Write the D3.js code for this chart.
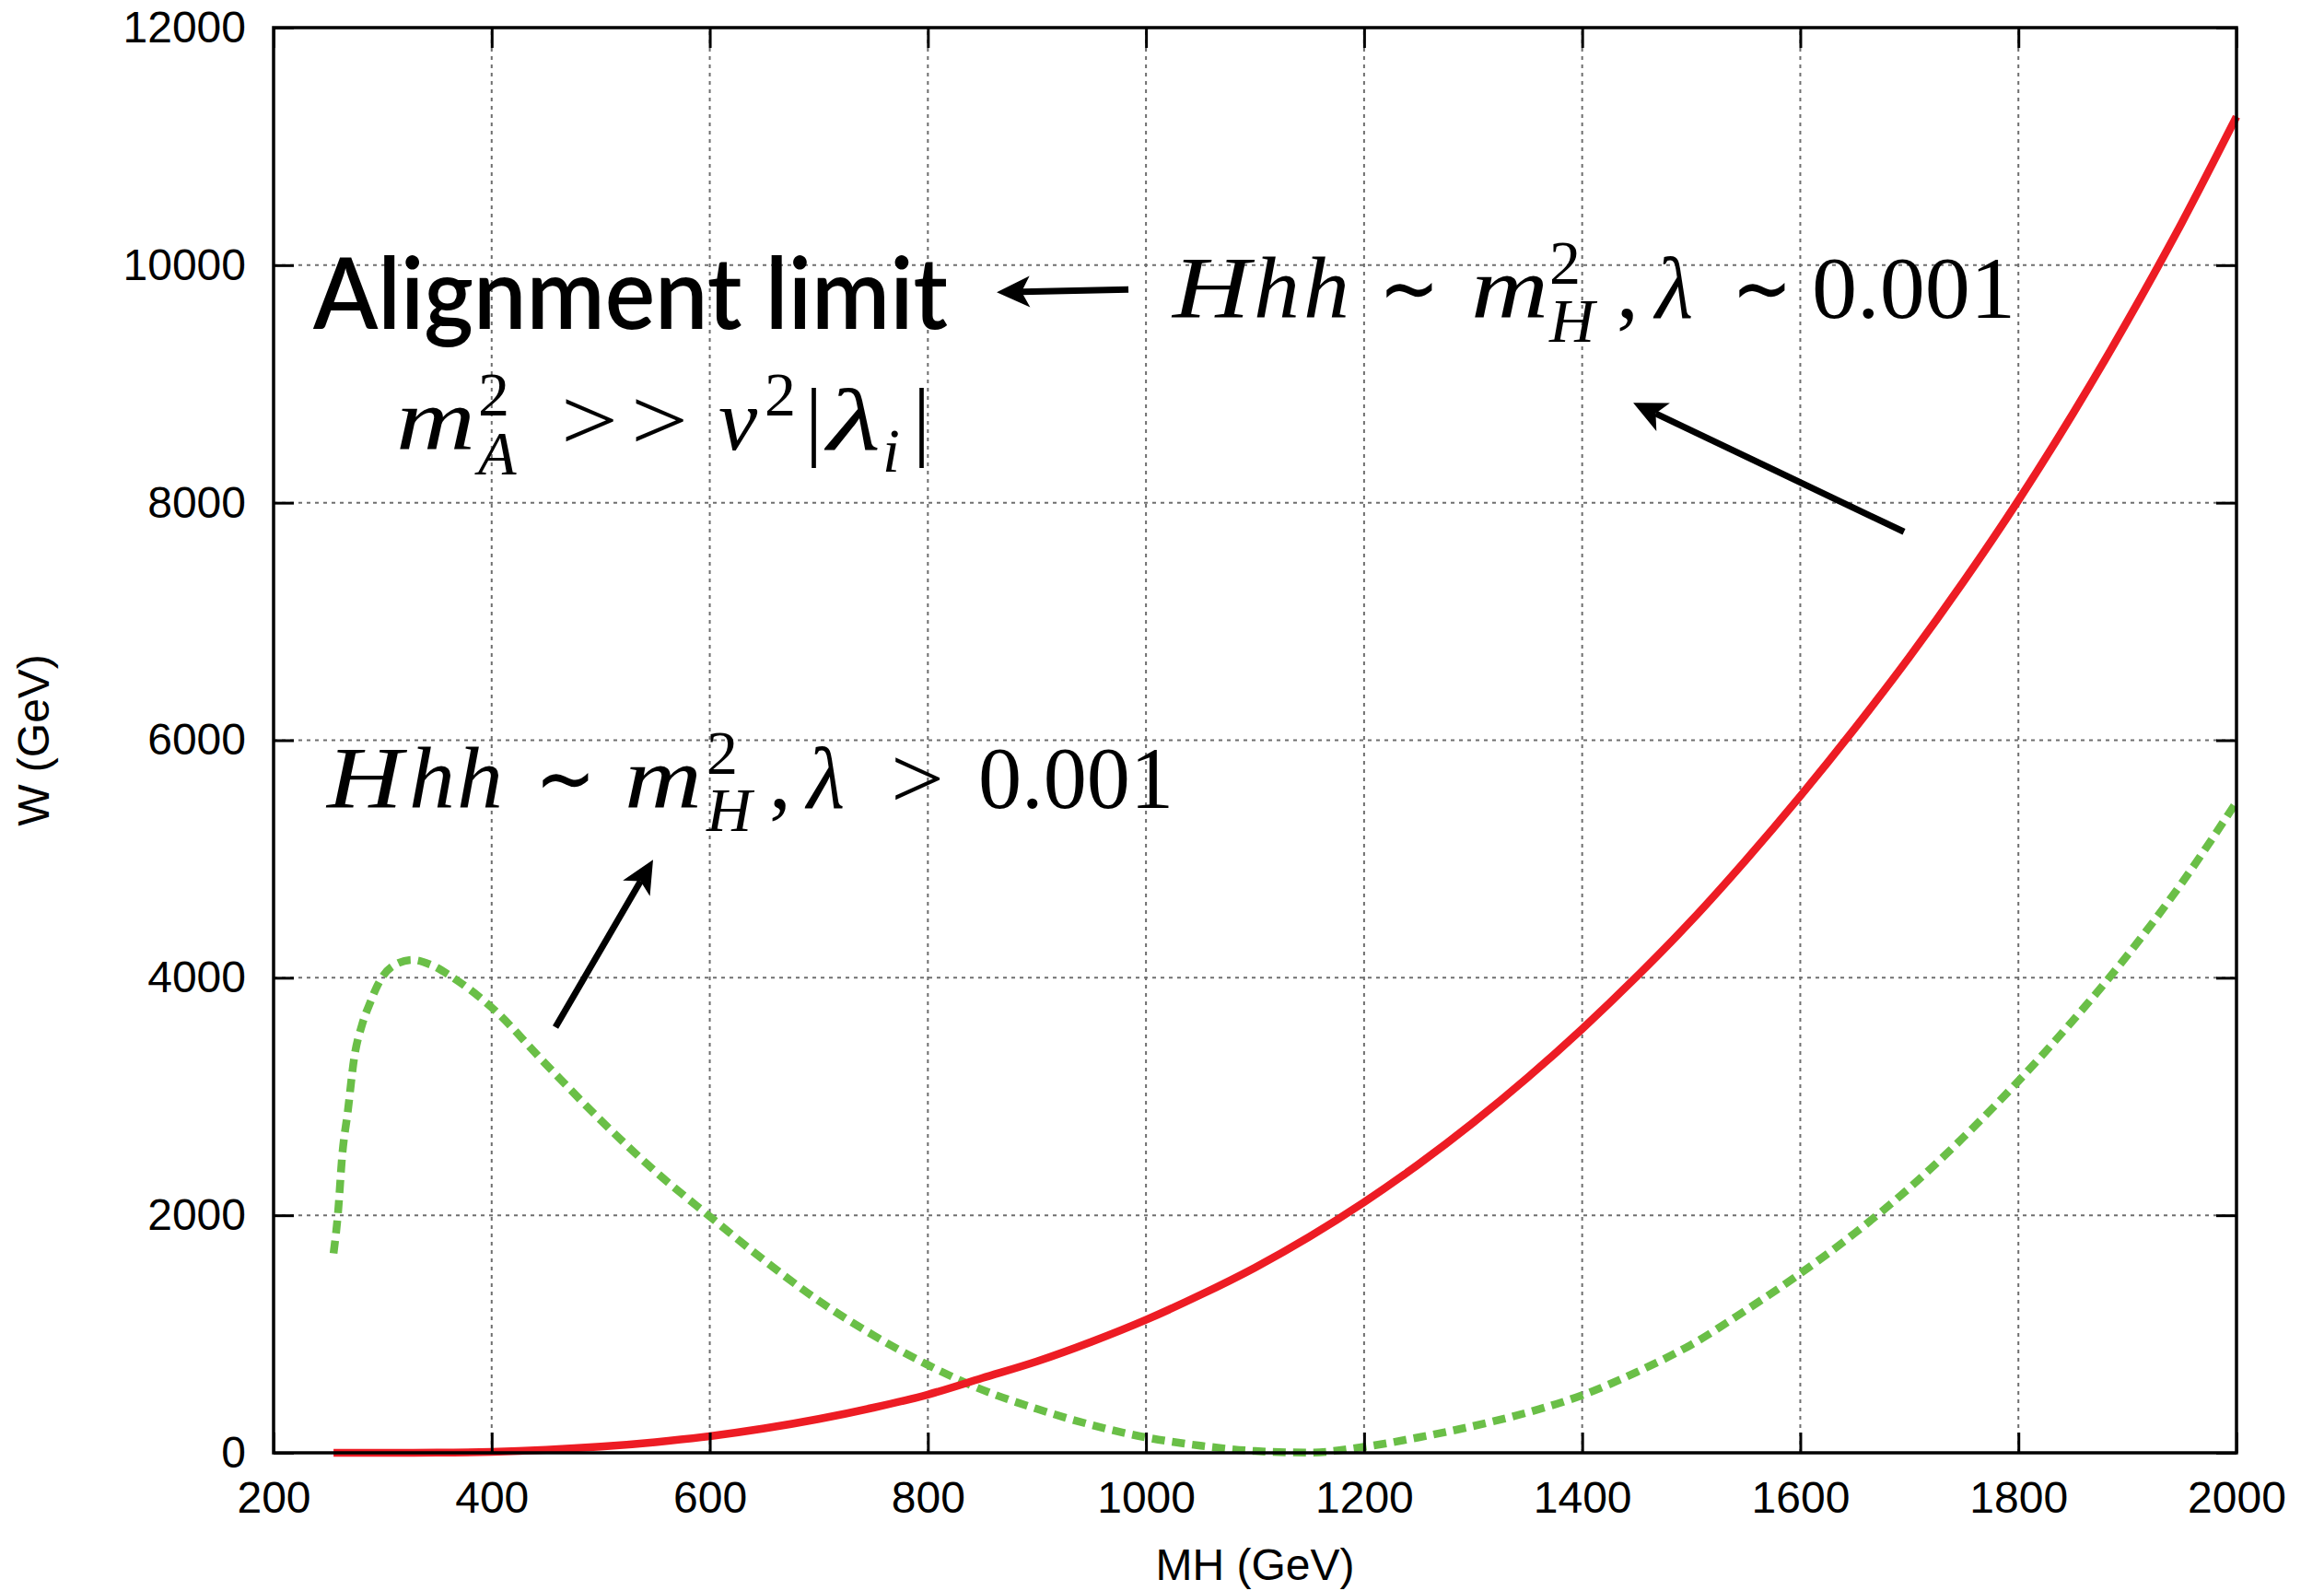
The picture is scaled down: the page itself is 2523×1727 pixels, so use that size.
<!DOCTYPE html>
<html>
<head>
<meta charset="utf-8">
<script src="https://cdn.jsdelivr.net/npm/d3@7"></script>
<style>
  html, body { margin: 0; padding: 0; background: #ffffff; }
  svg { display: block; }
</style>
</head>
<body>
<svg id="chart" width="2523" height="1727"></svg>
<script>
// Heavy Higgs H -> hh partial width W versus MH
const xTicks = [200, 400, 600, 800, 1000, 1200, 1400, 1600, 1800, 2000];
const yTicks = [0, 2000, 4000, 6000, 8000, 10000, 12000];

// lambda ~ 0.001 (alignment limit), solid red
const mhRed = [255, 300, 350, 400, 450, 500, 550, 600, 650, 700, 750, 800, 850, 900, 950,
               1000, 1050, 1100, 1150, 1200, 1250, 1300, 1350, 1400, 1450, 1500, 1550, 1600,
               1650, 1700, 1750, 1800, 1850, 1900, 1950, 2000];
const wRed  = [0, 0, 1, 8, 25, 52, 90, 140, 205, 285, 380, 490, 630, 770, 935,
               1120, 1330, 1560, 1820, 2110, 2430, 2780, 3160, 3570, 4010, 4480, 4990, 5530,
               6100, 6700, 7340, 8020, 8750, 9530, 10360, 11250];

// lambda > 0.001, dashed green
const mhGreen = [255, 259, 263, 268, 274, 281, 289, 295, 308, 327, 344, 363, 400, 450, 500,
                 550, 600, 650, 700, 750, 800, 850, 900, 950, 1000, 1050, 1100, 1150, 1200,
                 1250, 1300, 1350, 1400, 1450, 1500, 1550, 1600, 1650, 1700, 1750, 1800,
                 1850, 1900, 1950, 2000];
const wGreen  = [1680, 2010, 2510, 2870, 3330, 3600, 3800, 3930, 4090, 4150, 4110, 4010, 3750, 3270, 2800,
                 2370, 1990, 1620, 1280, 990, 740, 530, 370, 235, 130, 60, 15, 2, 50,
                 130, 225, 340, 485, 680, 910, 1200, 1510, 1850, 2230, 2660, 3130,
                 3640, 4190, 4800, 5480];

const xTitle = "MH (GeV)";
const yTitle = "W (GeV)";

const svg = d3.select("#chart");
const W = 2523, H = 1727;
const m = { left: 297, right: 95, top: 30, bottom: 150 };

svg.append("rect").attr("width", W).attr("height", H).attr("fill", "#fff");

const x = d3.scaleLinear().domain([200, 2000]).range([m.left, W - m.right]);
const y = d3.scaleLinear().domain([0, 12000]).range([H - m.bottom, m.top]);

const x0 = x.range()[0], x1 = x.range()[1];
const y0 = y.range()[0], y1 = y.range()[1];

// grid
const grid = svg.append("g")
  .attr("stroke", "#6f6f6f").attr("stroke-width", 2).attr("stroke-dasharray", "4,5");
grid.selectAll("line.gx").data(xTicks.slice(1, -1)).join("line")
  .attr("x1", d => x(d)).attr("x2", d => x(d)).attr("y1", y0).attr("y2", y1);
grid.selectAll("line.gy").data(yTicks.slice(1, -1)).join("line")
  .attr("x1", x0).attr("x2", x1).attr("y1", d => y(d)).attr("y2", d => y(d));

// curves
const line = d3.line().x(d => x(d[0])).y(d => y(d[1])).curve(d3.curveMonotoneX);
svg.append("path")
  .datum(mhGreen.map((v, i) => [v, wGreen[i]]))
  .attr("d", line).attr("fill", "none")
  .attr("stroke", "#6abf47").attr("stroke-width", 8.5).attr("stroke-dasharray", "14,8");
svg.append("path")
  .datum(mhRed.map((v, i) => [v, wRed[i]]))
  .attr("d", line).attr("fill", "none")
  .attr("stroke", "#ed1c24").attr("stroke-width", 8.5);

// axes with inward ticks on all four sides
const tickLen = 22;
const fmt = d3.format("d");
function styleAxis(g) {
  g.select(".domain").remove();
  g.selectAll(".tick line").attr("stroke", "#000").attr("stroke-width", 3);
  g.selectAll(".tick text")
    .attr("fill", "#000")
    .style("font-family", "'Liberation Sans', Arial, Helvetica, sans-serif")
    .style("font-size", "48px");
}
svg.append("g").attr("transform", `translate(0,${y0})`)
  .call(d3.axisBottom(x).tickValues(xTicks).tickFormat(fmt).tickSize(-tickLen).tickPadding(31))
  .call(styleAxis);
svg.append("g").attr("transform", `translate(0,${y1})`)
  .call(d3.axisTop(x).tickValues(xTicks).tickFormat("").tickSize(-tickLen))
  .call(styleAxis);
svg.append("g").attr("transform", `translate(${x0},0)`)
  .call(d3.axisLeft(y).tickValues(yTicks).tickFormat(fmt).tickSize(-tickLen).tickPadding(30))
  .call(styleAxis);
svg.append("g").attr("transform", `translate(${x1},0)`)
  .call(d3.axisRight(y).tickValues(yTicks).tickFormat("").tickSize(-tickLen))
  .call(styleAxis);

// frame
svg.append("rect")
  .attr("x", x0).attr("y", y1).attr("width", x1 - x0).attr("height", y0 - y1)
  .attr("fill", "none").attr("stroke", "#000").attr("stroke-width", 3.5);

// axis titles
svg.append("text")
  .attr("x", (x0 + x1) / 2).attr("y", 1715)
  .attr("text-anchor", "middle")
  .style("font-family", "'Liberation Sans', Arial, Helvetica, sans-serif")
  .style("font-size", "48px").text(xTitle);
svg.append("text")
  .attr("transform", `translate(53,${(y0 + y1) / 2}) rotate(-90)`)
  .attr("text-anchor", "middle")
  .style("font-family", "'Liberation Sans', Arial, Helvetica, sans-serif")
  .style("font-size", "48px").text(yTitle);

// annotations
svg.append("text")
  .attr("x", x(236.3)).attr("y", y(9462))
  .attr("textLength", 689).attr("lengthAdjust", "spacingAndGlyphs")
  .style("font-family", "Lato, 'Open Sans', sans-serif")
  .style("font-weight", 600)
  .style("font-size", "107px").text("Alignment limit");

// one text element per formula; tokens: [text, dx, dy, size, italic, width]
const serif = "'Liberation Serif', 'Times New Roman', serif";
function mathRun(ax, ay, tokens) {
  const t = svg.append("text")
    .attr("transform", `translate(${x(ax)},${y(ay)})`)
    .style("font-family", serif);
  tokens.forEach(([s, dx, dy, size, it, w]) => {
    const el = t.append("tspan").attr("x", dx).attr("y", dy)
      .style("font-size", size + "px")
      .style("font-style", it ? "italic" : "normal").text(s);
    if (w) el.attr("textLength", w).attr("lengthAdjust", "spacingAndGlyphs");
  });
}

mathRun(312.3, 8446, [
  ["m", 0, 0, 95, true, 86],
  ["2", 89, -37, 68, false, 0],
  ["A", 89, 27, 68, true, 0],
  [">", 179, 0, 95, false, 62],
  [">", 255, 0, 95, false, 62],
  ["v", 350, 0, 95, true, 0],
  ["2", 400, -37, 68, false, 0],
  ["|", 444, 0, 95, false, 0],
  ["λ", 468, 0, 95, true, 58],
  ["i", 528, 24, 68, true, 0],
  ["|", 561, 0, 95, false, 0]
]);

mathRun(1024.4, 9555, [
  ["H", 0, 0, 95, true, 84],
  ["h", 88, 0, 95, true, 50],
  ["h", 142, 0, 95, true, 50],
  ["∼", 224, 0, 95, false, 66],
  ["m", 324, 0, 95, true, 84],
  ["2", 409, -37, 68, false, 0],
  ["H", 409, 26, 68, true, 0],
  [",", 482, 0, 95, false, 0],
  ["λ", 524, 0, 95, true, 0],
  ["∼", 607, 0, 95, false, 66],
  ["0.001", 694, 0, 95, false, 221]
]);

mathRun(249, 5429, [
  ["H", 0, 0, 95, true, 82],
  ["h", 89, 0, 95, true, 50],
  ["h", 141, 0, 95, true, 50],
  ["∼", 226, 0, 95, false, 66],
  ["m", 323, 0, 95, true, 84],
  ["2", 412, -37, 68, false, 0],
  ["H", 412, 25, 68, true, 0],
  [",", 480, 0, 95, false, 0],
  ["λ", 521, 0, 95, true, 0],
  [">", 612, 0, 95, false, 58],
  ["0.001", 707, 0, 95, false, 212]
]);

// arrows (tail -> head, data coordinates)
function arrow(xa, ya, xb, yb) {
  const ax = x(xa), ay = y(ya), bx = x(xb), by = y(yb);
  const dx = bx - ax, dy = by - ay, len = Math.hypot(dx, dy);
  const ux = dx / len, uy = dy / len, nx = -uy, ny = ux;
  const L = 36, Wd = 17, notch = 27;
  const sx = bx - ux * notch, sy = by - uy * notch;
  svg.append("line").attr("x1", ax).attr("y1", ay).attr("x2", sx).attr("y2", sy)
    .attr("stroke", "#000").attr("stroke-width", 7);
  const pts = [
    [bx, by],
    [bx - ux * L + nx * Wd, by - uy * L + ny * Wd],
    [sx, sy],
    [bx - ux * L - nx * Wd, by - uy * L - ny * Wd]
  ];
  svg.append("polygon").attr("points", pts.map(p => p.join(",")).join(" ")).attr("fill", "#000");
}
arrow(983.9, 9795, 863.1, 9771);
arrow(1695.1, 7755, 1446.8, 8841);
arrow(458.5, 3583, 548.0, 4994);
</script>
</body>
</html>
